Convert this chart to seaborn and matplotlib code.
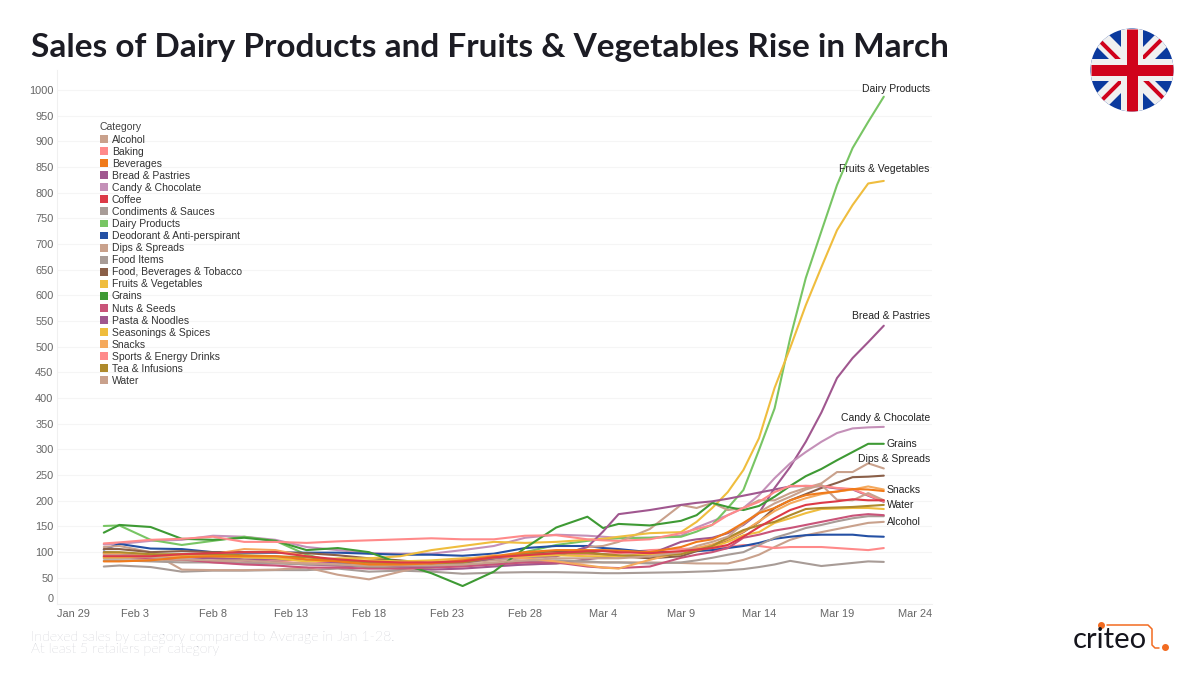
import matplotlib
matplotlib.use('Agg')
import matplotlib.pyplot as plt
import numpy as np
import pandas as pd
import seaborn as sns
from matplotlib.patches import Circle, Patch

# ── Data ──────────────────────────────────────────────────
START = "2020-02-01"
DAYS = [0, 1, 3, 5, 7, 9, 11, 13, 15, 17, 19, 21, 23, 25, 27, 29, 31, 32, 33, 35, 37,
        38, 39, 40, 41, 42, 43, 44, 45, 46, 47, 48, 49, 50]

alcohol = [88, 88, 86, 84, 82, 80, 80, 78, 74, 72, 72, 74, 76, 76, 76, 78, 80, 80, 80, 80, 79,
           78, 78, 78, 85, 95, 110, 124, 133, 139, 145, 151, 157, 159]
baking = [96, 96, 94, 92, 88, 84, 82, 78, 80, 76, 78, 80, 84, 90, 94, 96, 96, 96, 98, 104, 106,
          108, 108, 110, 114, 112, 108, 110, 110, 110, 108, 106, 104, 108]
beverages = [82, 82, 84, 90, 92, 92, 92, 86, 82, 76, 76, 78, 84, 92, 100, 104, 104, 104, 103, 100, 110,
             120, 125, 139, 157, 176, 186, 201, 211, 215, 218, 223, 222, 219]
bread = [100, 98, 92, 90, 88, 84, 80, 76, 74, 72, 68, 66, 68, 72, 76, 78, 86, 90, 92, 96, 120,
         125, 128, 137, 153, 176, 225, 266, 315, 372, 439, 478, 509, 541]
candy = [115, 116, 122, 124, 132, 130, 124, 110, 104, 98, 97, 97, 104, 112, 128, 134, 132, 130, 128, 128, 132,
         148, 160, 172, 186, 211, 244, 273, 295, 315, 332, 341, 343, 344]
coffee = [92, 92, 92, 96, 98, 100, 100, 92, 86, 82, 80, 80, 82, 90, 94, 98, 102, 102, 100, 98, 102,
          105, 108, 114, 130, 149, 166, 182, 192, 196, 199, 203, 201, 201]
condiments = [72, 74, 71, 62, 64, 64, 65, 65, 68, 62, 64, 62, 58, 60, 61, 61, 60, 59, 59, 60, 61,
              62, 63, 65, 67, 71, 76, 83, 78, 73, 76, 79, 82, 81]
dairy = [151, 152, 124, 114, 122, 130, 122, 95, 80, 70, 68, 70, 78, 88, 100, 114, 122, 125, 127, 128, 130,
         140, 153, 186, 221, 299, 380, 517, 634, 725, 815, 887, 938, 987]
deodorant = [105, 116, 107, 106, 100, 99, 99, 99, 99, 97, 95, 95, 93, 97, 108, 112, 112, 108, 106, 100, 100,
             102, 104, 108, 112, 118, 126, 130, 133, 134, 134, 134, 131, 130]
dips = [110, 112, 100, 66, 65, 65, 66, 70, 56, 47, 62, 75, 80, 84, 88, 92, 110, 112, 120, 145, 192,
        186, 196, 182, 186, 201, 201, 215, 225, 234, 256, 256, 273, 263]
food_items = [84, 84, 82, 80, 80, 78, 78, 76, 76, 72, 72, 72, 74, 78, 82, 84, 82, 80, 80, 78, 80,
              84, 89, 95, 100, 114, 128, 137, 147, 153, 160, 166, 170, 170]
food_bev = [106, 106, 100, 102, 100, 100, 100, 98, 94, 88, 84, 78, 80, 88, 98, 102, 100, 96, 92, 88, 92,
            102, 110, 124, 139, 159, 186, 201, 213, 225, 235, 246, 247, 249]
fruits = [90, 92, 92, 96, 94, 92, 86, 84, 88, 88, 92, 104, 112, 120, 118, 120, 124, 126, 130, 137, 139,
          159, 186, 217, 260, 322, 420, 498, 581, 655, 727, 776, 818, 823]
grains = [138, 153, 149, 126, 124, 128, 122, 104, 108, 100, 78, 59, 34, 62, 108, 148, 169, 147, 155, 152, 161,
          172, 196, 188, 182, 190, 208, 229, 248, 262, 279, 295, 311, 311]
nuts = [92, 92, 88, 86, 80, 76, 74, 70, 70, 68, 68, 70, 72, 76, 80, 80, 72, 70, 69, 72, 89,
        95, 100, 108, 128, 134, 142, 147, 153, 159, 165, 171, 174, 172]
pasta = [98, 98, 92, 92, 90, 86, 86, 84, 80, 78, 72, 72, 80, 88, 92, 92, 110, 140, 174, 182, 192,
         196, 199, 204, 210, 216, 222, 228, 229, 228, 224, 222, 210, 198]
seasonings = [90, 90, 92, 94, 92, 90, 88, 82, 84, 84, 82, 84, 88, 90, 92, 94, 92, 92, 92, 96, 100,
              104, 110, 120, 133, 139, 157, 166, 176, 184, 185, 186, 186, 184]
snacks = [98, 98, 96, 90, 96, 106, 104, 92, 84, 76, 78, 80, 86, 94, 88, 82, 74, 70, 68, 85, 100,
          108, 115, 125, 140, 160, 180, 195, 205, 213, 218, 222, 228, 222]
sports = [117, 119, 124, 126, 130, 120, 120, 118, 121, 123, 125, 127, 125, 125, 132, 133, 125, 123, 122, 125, 137,
          145, 153, 172, 186, 198, 217, 229, 229, 229, 225, 223, 211, 199]
tea = [100, 100, 96, 96, 96, 94, 92, 90, 84, 80, 78, 78, 80, 90, 96, 98, 98, 96, 94, 92, 96,
       104, 112, 128, 143, 152, 159, 172, 184, 186, 187, 188, 190, 192]
water = [94, 94, 90, 86, 84, 84, 80, 78, 76, 74, 74, 74, 76, 80, 84, 88, 88, 88, 88, 92, 100,
         112, 120, 130, 155, 178, 195, 208, 222, 231, 202, 201, 215, 201]

CATEGORIES = ['Alcohol', 'Baking', 'Beverages', 'Bread & Pastries', 'Candy & Chocolate', 'Coffee',
              'Condiments & Sauces', 'Dairy Products', 'Deodorant & Anti-perspirant', 'Dips & Spreads',
              'Food Items', 'Food, Beverages & Tobacco', 'Fruits & Vegetables', 'Grains', 'Nuts & Seeds',
              'Pasta & Noodles', 'Seasonings & Spices', 'Snacks', 'Sports & Energy Drinks',
              'Tea & Infusions', 'Water']
SERIES = [alcohol, baking, beverages, bread, candy, coffee, condiments, dairy, deodorant, dips,
          food_items, food_bev, fruits, grains, nuts, pasta, seasonings, snacks, sports, tea, water]
COLORS = ['#c9a18c', '#ff8a8a', '#f07a1a', '#a0578f', '#c490b8', '#dc3a47', '#a89c97', '#78c564',
          '#2450a4', '#c9a18c', '#a89c97', '#8a5f48', '#efbd3e', '#3e9a34', '#c95479', '#a0578f',
          '#efbd3e', '#f5a95c', '#ff8a8a', '#ae8a2c', '#c9a18c']

YTICKS = list(range(0, 1001, 50))
XTICKS = ['2020-01-29', '2020-02-03', '2020-02-08', '2020-02-13', '2020-02-18', '2020-02-23',
          '2020-02-28', '2020-03-04', '2020-03-09', '2020-03-14', '2020-03-19', '2020-03-24']
XLABELS = ['Jan 29', 'Feb 3', 'Feb 8', 'Feb 13', 'Feb 18', 'Feb 23',
           'Feb 28', 'Mar 4', 'Mar 9', 'Mar 14', 'Mar 19', 'Mar 24']

# name -> (horizontal align, x offset px, y offset px)
END_LABELS = {
    'Dairy Products': ('right', 46, 8),
    'Fruits & Vegetables': ('right', 46, 12),
    'Bread & Pastries': ('right', 46, 10),
    'Candy & Chocolate': ('right', 46, 9),
    'Dips & Spreads': ('right', 46, 9),
    'Grains': ('left', 3, 0),
    'Snacks': ('left', 3, 0),
    'Water': ('left', 3, -5),
    'Alcohol': ('left', 3, 0),
}

# ── Long table for seaborn ────────────────────────────────
dates = pd.to_datetime(START) + pd.to_timedelta(DAYS, unit='D')
frames = [pd.DataFrame({'date': dates, 'value': vals, 'Category': name})
          for name, vals in zip(CATEGORIES, SERIES)]
df = pd.concat(frames, ignore_index=True)
palette = dict(zip(CATEGORIES, COLORS))

# ── Figure ────────────────────────────────────────────────
sns.set_theme(style='white')
plt.rcParams['font.family'] = ['Liberation Sans', 'DejaVu Sans']

W, H = 1200, 675
fig = plt.figure(figsize=(12, 6.75), dpi=100)
ax = fig.add_axes([57 / W, 1 - 603.5 / H, 875 / W, 533.5 / H])

sns.lineplot(data=df, x='date', y='value', hue='Category', hue_order=CATEGORIES,
             palette=palette, estimator=None, errorbar=None, linewidth=1.5,
             legend=False, ax=ax)

# red and orange sit on top of the bundle in the original
for line, name in zip(ax.lines, CATEGORIES):
    if name in ('Beverages', 'Coffee'):
        line.set_zorder(3)

ax.set_xlim(pd.Timestamp('2020-01-29'), pd.Timestamp('2020-01-29') + pd.Timedelta(days=56.09))
ax.set_ylim(0, 1039)
ax.set_xlabel('')
ax.set_ylabel('')

ax.set_yticks(YTICKS)
ax.set_yticklabels([str(v) for v in YTICKS])
ax.set_xticks(pd.to_datetime(XTICKS))
ax.set_xticklabels(XLABELS)
ax.tick_params(axis='y', length=0, pad=2.5, labelsize=7.9, labelcolor='#666666')
ax.tick_params(axis='x', length=3, width=0.6, color='#eeeeee', pad=1, labelsize=7.9, labelcolor='#666666')
ax.get_xticklabels()[0].set_ha('left')
ax.get_yticklabels()[0].set_va('bottom')

ax.grid(axis='y', color='#f5f5f5', linewidth=0.8)
ax.set_axisbelow(True)
for side in ['top', 'right']:
    ax.spines[side].set_visible(False)
for side in ['left', 'bottom']:
    ax.spines[side].set_color('#f0f0f0')
    ax.spines[side].set_linewidth(0.8)

# ── End labels ────────────────────────────────────────────
for name, (ha, dx, dy) in END_LABELS.items():
    vals = SERIES[CATEGORIES.index(name)]
    ax.annotate(name, xy=(dates[-1], vals[-1]), xytext=(dx, dy), textcoords='offset pixels',
                ha=ha, va='center', fontsize=7.45, color='#222222')

# ── Legend ────────────────────────────────────────────────
handles = [Patch(facecolor=palette[c], edgecolor='none', label=c) for c in CATEGORIES]
leg = ax.legend(handles=handles, title='Category', loc='upper left',
                bbox_to_anchor=((100 - 57) / 875, 1 - (122.5 - 70) / 533.5), frameon=False,
                fontsize=7.45, title_fontsize=7.45, handlelength=0.8, handleheight=0.8,
                handletextpad=0.35, labelspacing=0.2, borderpad=0, borderaxespad=0,
                alignment='left')
leg.get_title().set_color('#444444')
for t in leg.get_texts():
    t.set_color('#333333')

# ── Overlay in pixel coordinates: title, footer, flag, logo ──
ov = fig.add_axes([0, 0, 1, 1], facecolor='none')
ov.set_xlim(0, W)
ov.set_ylim(H, 0)
ov.axis('off')

ov.text(31, 47, 'Sales of Dairy Products and Fruits & Vegetables Rise in March',
        fontsize=24, fontweight='bold', family='Lato', color='#1c1c24', va='center', ha='left')
ov.text(31, 637, 'Indexed sales by category compared to Average in Jan 1-28.',
        fontsize=10.2, fontweight='light', family='Lato', color='#a6a8b3', va='center', ha='left')
ov.text(31, 649, 'At least 5 retailers per category',
        fontsize=10.2, fontweight='light', family='Lato', color='#a6a8b3', va='center', ha='left')

# flag
cx, cy, r = 1132, 70, 41.5
px = 0.72
clip = Circle((cx, cy), r, transform=ov.transData)
ov.add_patch(Circle((cx, cy), r, facecolor='#0b3a9e', edgecolor='none'))


def flag_line(x0, y0, x1, y1, color, width):
    line, = ov.plot([x0, x1], [y0, y1], color=color, lw=width * px, solid_capstyle='butt')
    line.set_clip_path(clip)


flag_line(cx - r, cy - r, cx + r, cy + r, '#f0f0f0', 17)
flag_line(cx - r, cy + r, cx + r, cy - r, '#f0f0f0', 17)
flag_line(cx - r, cy - r + 3, cx, cy + 3, '#d0021b', 4)
flag_line(cx, cy - 1, cx + r, cy - r - 1, '#d0021b', 4)
flag_line(cx - r, cy + r, cx, cy, '#d0021b', 4)
flag_line(cx, cy - 3, cx + r, cy + r - 3, '#d0021b', 4)
flag_line(cx, cy - r, cx, cy + r, '#f0f0f0', 22)
flag_line(cx - r, cy, cx + r, cy, '#f0f0f0', 22)
flag_line(cx, cy - r, cx, cy + r, '#d0021b', 11)
flag_line(cx - r, cy, cx + r, cy, '#d0021b', 11)

# criteo logo
ov.text(1073, 640, 'criteo', fontsize=21, family='Lato', color='#15151d', va='center', ha='left')
ov.plot([1107, 1148, 1152, 1152, 1155, 1159], [625, 625, 629, 645, 648, 648],
        color='#f26b21', lw=1.1, solid_joinstyle='round')
ov.plot([1101, 1165], [625, 647], linestyle='none', marker='o', ms=4, color='#f26b21')

fig.savefig('out.png', dpi=100)
plt.close(fig)
